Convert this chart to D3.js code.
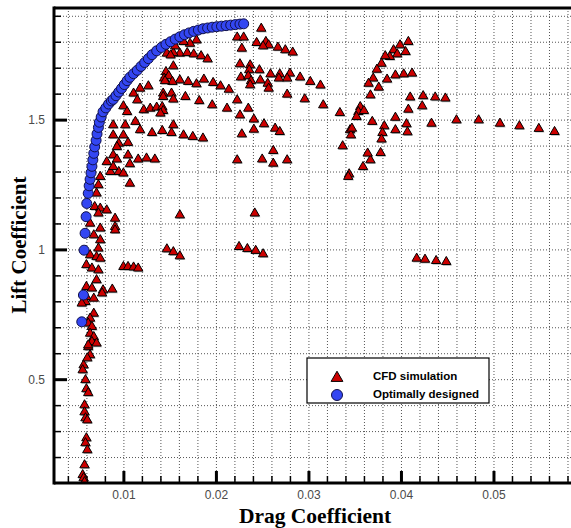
<!DOCTYPE html>
<html>
<head>
<meta charset="utf-8">
<script src="https://cdn.jsdelivr.net/npm/d3@7"></script>
<style>
  body { margin: 0; background: #fff; }
  svg { display: block; }
</style>
</head>
<body>
<svg id="chart" width="571" height="528"></svg>
<script>
// CFD simulation results: [drag coefficient, lift coefficient]
const cfdSimulation = [
  [0.0057,0.554],[0.0056,0.535],[0.0059,0.497],[0.0060,0.462],[0.0062,0.447],[0.0058,0.400],[0.0058,0.373],[0.0059,0.350],
  [0.0061,0.342],[0.0060,0.273],[0.0059,0.254],[0.0061,0.227],[0.0058,0.169],[0.0056,0.131],[0.0057,0.119],[0.0058,0.104],
  [0.0062,0.624],[0.0068,0.643],[0.0064,0.593],[0.0061,0.581],
  [0.0073,1.248],[0.0071,1.216],[0.0069,1.164],[0.0075,1.158],[0.0073,1.139],[0.0082,1.151],[0.0091,1.119],[0.0064,1.100],
  [0.0075,1.081],[0.0091,1.087],[0.0091,1.074],[0.0068,1.055],[0.0075,1.036],[0.0073,1.004],[0.0064,0.978],[0.0071,0.971],
  [0.0075,0.965],[0.0060,0.940],[0.0066,0.927],[0.0073,0.920],[0.0071,0.882],[0.0060,0.856],[0.0066,0.850],[0.0078,0.843],
  [0.0077,0.831],[0.0088,0.846],[0.0060,0.817],[0.0068,0.811],[0.0059,0.798],[0.0055,0.792],[0.0068,0.753],[0.0064,0.734],
  [0.0062,0.715],[0.0066,0.702],[0.0064,0.676],[0.0068,0.663],[0.0066,0.644],[0.0062,0.631],[0.0071,0.638],
  [0.0086,1.299],[0.0095,1.299],[0.0100,1.293],[0.0107,1.254],
  [0.0161,1.132],[0.0147,1.001],[0.0154,0.990],[0.0161,0.974],[0.0100,0.933],[0.0105,0.933],[0.0111,0.931],[0.0116,0.927],
  [0.0242,1.139],[0.0225,1.010],[0.0234,1.002],[0.0243,0.995],[0.0251,0.982],
  [0.0417,0.965],[0.0426,0.961],[0.0438,0.956],[0.0449,0.952],
  [0.0408,1.800],[0.0399,1.787],[0.0392,1.768],[0.0405,1.761],[0.0396,1.752],[0.0388,1.742],[0.0383,1.745],[0.0379,1.716],
  [0.0374,1.693],[0.0370,1.659],[0.0376,1.624],[0.0367,1.594],[0.0385,1.655],[0.0394,1.671],[0.0403,1.675],[0.0412,1.678],
  [0.0410,1.586],[0.0424,1.591],[0.0437,1.586],[0.0448,1.582],[0.0423,1.552],[0.0408,1.539],[0.0394,1.508],[0.0406,1.483],
  [0.0382,1.475],[0.0369,1.492],[0.0380,1.449],[0.0394,1.460],[0.0407,1.452],[0.0379,1.424],[0.0433,1.485],[0.0460,1.498],
  [0.0484,1.498],[0.0507,1.485],[0.0528,1.475],[0.0549,1.465],[0.0566,1.453],[0.0378,1.372],[0.0367,1.344],
  [0.0249,1.851],[0.0223,1.817],[0.0230,1.817],[0.0244,1.796],[0.0254,1.800],[0.0257,1.787],[0.0251,1.783],[0.0267,1.778],
  [0.0275,1.768],[0.0283,1.759],[0.0228,1.774],[0.0226,1.714],[0.0237,1.710],[0.0236,1.691],[0.0247,1.691],[0.0259,1.675],
  [0.0269,1.675],[0.0280,1.678],[0.0277,1.659],[0.0268,1.659],[0.0291,1.663],[0.0302,1.646],[0.0313,1.632],[0.0227,1.663],
  [0.0235,1.668],[0.0238,1.649],[0.0248,1.652],[0.0256,1.639],[0.0257,1.620],[0.0237,1.633],[0.0277,1.597],[0.0296,1.579],
  [0.0316,1.556],[0.0334,1.526],[0.0167,1.588],[0.0182,1.572],[0.0196,1.556],[0.0212,1.543],[0.0223,1.575],[0.0235,1.543],
  [0.0226,1.517],[0.0241,1.501],[0.0252,1.483],[0.0241,1.462],[0.0264,1.466],[0.0269,1.453],[0.0228,1.444],[0.0165,1.440],
  [0.0175,1.434],[0.0186,1.428],[0.0161,1.652],[0.0170,1.646],[0.0179,1.637],[0.0187,1.655],[0.0197,1.642],[0.0205,1.629],
  [0.0214,1.616],[0.0262,1.380],[0.0223,1.344],[0.0250,1.347],[0.0262,1.331],[0.0277,1.344],[0.0161,1.755],[0.0169,1.757],
  [0.0176,1.752],[0.0184,1.745],[0.0191,1.733],[0.0179,1.806],[0.0172,1.793],[0.0165,1.800],[0.0356,1.549],[0.0354,1.530],
  [0.0352,1.511],[0.0345,1.460],[0.0346,1.440],[0.0347,1.466],[0.0337,1.398],[0.0364,1.370],[0.0359,1.318],[0.0344,1.290],
  [0.0343,1.280],[0.0365,1.639],[0.0360,1.534],
  [0.0147,1.755],[0.0154,1.757],[0.0156,1.783],[0.0151,1.748],[0.0146,1.684],[0.0154,1.706],[0.0144,1.659],[0.0149,1.668],
  [0.0153,1.646],[0.0145,1.649],[0.0118,1.620],[0.0127,1.629],[0.0111,1.601],[0.0115,1.575],[0.0143,1.601],[0.0152,1.601],
  [0.0154,1.578],[0.0143,1.588],[0.0100,1.552],[0.0104,1.530],[0.0122,1.537],[0.0129,1.543],[0.0136,1.547],[0.0142,1.549],
  [0.0143,1.534],[0.0140,1.524],[0.0113,1.492],[0.0102,1.479],[0.0089,1.479],[0.0118,1.460],[0.0131,1.449],[0.0142,1.457],
  [0.0152,1.449],[0.0154,1.479],[0.0089,1.440],[0.0100,1.440],[0.0095,1.408],[0.0105,1.411],[0.0093,1.395],[0.0089,1.363],
  [0.0105,1.363],[0.0116,1.347],[0.0125,1.351],[0.0134,1.347],[0.0093,1.347],[0.0107,1.329],[0.0089,1.318],[0.0075,1.280],
  [0.0082,1.337]
];

// Optimally designed airfoils (Pareto front): [drag coefficient, lift coefficient]
const optimalDesign = [
  [0.00550,0.721],[0.00568,0.824],[0.00575,0.997],[0.00586,1.062],[0.00597,1.126],[0.00604,1.177],[0.00620,1.216],
  [0.00630,1.245],[0.00640,1.270],[0.00650,1.295],[0.00660,1.320],[0.00670,1.345],[0.00680,1.370],[0.00690,1.395],
  [0.00705,1.420],[0.00715,1.445],[0.00730,1.470],[0.00740,1.490],[0.00760,1.510],[0.00780,1.530],[0.00810,1.545],
  [0.00840,1.560],[0.00870,1.572],[0.00890,1.578],[0.00920,1.592],[0.00950,1.606],[0.00980,1.620],[0.01010,1.635],
  [0.01040,1.650],[0.01070,1.663],[0.01110,1.677],[0.01150,1.690],[0.01190,1.705],[0.01230,1.720],[0.01270,1.735],
  [0.01310,1.750],[0.01360,1.765],[0.01410,1.778],[0.01460,1.790],[0.01510,1.800],[0.01560,1.810],[0.01610,1.819],
  [0.01660,1.827],[0.01710,1.834],[0.01760,1.840],[0.01810,1.845],[0.01860,1.850],[0.01910,1.853],[0.01960,1.856],
  [0.02010,1.858],[0.02060,1.860],[0.02110,1.862],[0.02160,1.864],[0.02210,1.866],[0.02260,1.868],[0.02300,1.869]
];

const dragLabelTicks = [0.01, 0.02, 0.03, 0.04, 0.05];
const liftLabelTicks = [0.5, 1, 1.5];
const dragMinorTicks = d3.range(4, 59, 2).map(v => v / 1000);
const liftMinorTicks = d3.range(2, 20, 1).map(v => v / 10);
const seriesNames = ["CFD simulation", "Optimally designed"];

const svg = d3.select("#chart");
const plot = { left: 54, top: 8, right: 586, bottom: 483 };

const x = d3.scaleLinear().domain([0.0025, 0.06]).range([plot.left, plot.right]);
const y = d3.scaleLinear().domain([0.1, 1.93]).range([plot.bottom, plot.top]);

svg.append("defs").append("clipPath").attr("id", "plotClip")
  .append("rect").attr("x", plot.left).attr("y", plot.top)
  .attr("width", plot.right - plot.left).attr("height", plot.bottom - plot.top);

// dotted grid
const gridX = svg.append("g").attr("transform", `translate(0,${plot.bottom})`)
  .call(d3.axisBottom(x).tickValues(dragMinorTicks).tickSize(-(plot.bottom - plot.top)).tickFormat(""));
const gridY = svg.append("g").attr("transform", `translate(${plot.left},0)`)
  .call(d3.axisLeft(y).tickValues(liftMinorTicks).tickSize(-(plot.right - plot.left)).tickFormat(""));
[gridX, gridY].forEach(g => {
  g.select(".domain").remove();
  g.selectAll(".tick line").attr("stroke", "#555").attr("stroke-width", 1).attr("stroke-dasharray", "1,2");
});

// minor ticks (inward)
const minorX = svg.append("g").attr("transform", `translate(0,${plot.bottom})`)
  .call(d3.axisBottom(x).tickValues(dragMinorTicks).tickSize(-7).tickFormat(""));
const minorY = svg.append("g").attr("transform", `translate(${plot.left},0)`)
  .call(d3.axisLeft(y).tickValues(liftMinorTicks).tickSize(-7).tickFormat(""));
[minorX, minorY].forEach(g => {
  g.select(".domain").remove();
  g.selectAll(".tick line").attr("stroke", "#000").attr("stroke-width", 1.5);
});

// major ticks with labels
const majorX = svg.append("g").attr("transform", `translate(0,${plot.bottom})`)
  .call(d3.axisBottom(x).tickValues(dragLabelTicks).tickSize(-12).tickPadding(7).tickFormat(d3.format(".2f")));
const majorY = svg.append("g").attr("transform", `translate(${plot.left},0)`)
  .call(d3.axisLeft(y).tickValues(liftLabelTicks).tickSize(-13).tickPadding(9).tickFormat(d3.format("~g")));
[majorX, majorY].forEach(g => {
  g.select(".domain").remove();
  g.selectAll(".tick line").attr("stroke", "#000").attr("stroke-width", 3);
  g.selectAll(".tick text").attr("fill", "#4a4a4a")
    .style("font-family", "'Liberation Sans', Arial, sans-serif").style("font-size", "12px");
});

// data markers
const marks = svg.append("g").attr("clip-path", "url(#plotClip)");
const tri = d3.symbol().type(d3.symbolTriangle).size(38);

marks.append("g").selectAll("path").data(cfdSimulation).join("path")
  .attr("d", tri).attr("transform", d => `translate(${x(d[0]) + 1},${y(d[1]) + 1.2})`)
  .attr("fill", "#9a9a9a").attr("opacity", 0.7);
marks.append("g").selectAll("path").data(cfdSimulation).join("path")
  .attr("d", tri).attr("transform", d => `translate(${x(d[0])},${y(d[1])})`)
  .attr("fill", "#cc0000").attr("stroke", "#000").attr("stroke-width", 1);

marks.append("g").selectAll("circle").data(optimalDesign).join("circle")
  .attr("cx", d => x(d[0])).attr("cy", d => y(d[1])).attr("r", 5)
  .attr("fill", "#3346f2").attr("stroke", "#10104a").attr("stroke-width", 1);

// frame
svg.append("line").attr("x1", plot.left).attr("x2", 571).attr("y1", plot.top).attr("y2", plot.top)
  .attr("stroke", "#000").attr("stroke-width", 3);
svg.append("line").attr("x1", plot.left).attr("x2", 571).attr("y1", plot.bottom).attr("y2", plot.bottom)
  .attr("stroke", "#000").attr("stroke-width", 3);
svg.append("line").attr("x1", plot.left).attr("x2", plot.left).attr("y1", plot.top - 1.5).attr("y2", plot.bottom + 1.5)
  .attr("stroke", "#000").attr("stroke-width", 3);

// axis titles
svg.append("text").attr("x", 315).attr("y", 523).attr("text-anchor", "middle")
  .style("font-family", "'Liberation Serif', 'Times New Roman', serif").style("font-weight", "bold").style("font-size", "21.5px")
  .text("Drag Coefficient");
svg.append("text").attr("transform", "translate(26,245) rotate(-90)").attr("text-anchor", "middle")
  .style("font-family", "'Liberation Serif', 'Times New Roman', serif").style("font-weight", "bold").style("font-size", "21px")
  .text("Lift Coefficient");

// legend
const legend = svg.append("g").attr("transform", "translate(307,358)");
legend.append("rect").attr("width", 182).attr("height", 45).attr("fill", "#fff").attr("stroke", "#000").attr("stroke-width", 1.2);
legend.append("path").attr("d", d3.symbol().type(d3.symbolTriangle).size(60)).attr("transform", "translate(30,20)")
  .attr("fill", "#cc0000").attr("stroke", "#000").attr("stroke-width", 1);
legend.append("circle").attr("cx", 30).attr("cy", 37).attr("r", 5.5)
  .attr("fill", "#3346f2").attr("stroke", "#10104a").attr("stroke-width", 1);
legend.selectAll("text.item").data(seriesNames).join("text").attr("class", "item")
  .attr("x", 66).attr("y", (d, i) => 22 + i * 18)
  .style("font-family", "'Liberation Sans', Arial, sans-serif").style("font-weight", "bold").style("font-size", "11.5px")
  .text(d => d);
</script>
</body>
</html>
